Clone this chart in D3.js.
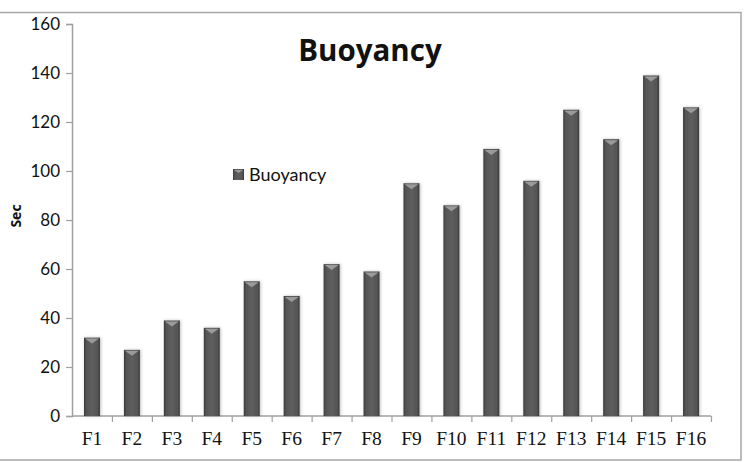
<!DOCTYPE html>
<html>
<head>
<meta charset="utf-8">
<script src="https://cdn.jsdelivr.net/npm/d3@7"></script>
<style>
	body { margin: 0; background: #fff; }
	svg { display: block; }
</style>
</head>
<body>
<div id="graphic"></div>
<script>
// chart data
const categories = ['F1', 'F2', 'F3', 'F4', 'F5', 'F6', 'F7', 'F8', 'F9', 'F10', 'F11', 'F12', 'F13', 'F14', 'F15', 'F16'];
const buoyancy = [32, 27, 39, 36, 55, 49, 62, 59, 95, 86, 109, 96, 125, 113, 139, 126];
const yTicks = [0, 20, 40, 60, 80, 100, 120, 140, 160];

const width = 745, height = 462;
const margin = { top: 24, right: 34, bottom: 46, left: 72 };
const chartWidth = width - margin.left - margin.right;
const chartHeight = height - margin.top - margin.bottom;

let svg = d3.select('#graphic').append('svg')
	.attr('width', width)
	.attr('height', height);

// gradient for the bevelled bars
let defs = svg.append('defs');
let grad = defs.append('linearGradient').attr('id', 'barGrad')
	.attr('x1', '0%').attr('x2', '100%').attr('y1', '0%').attr('y2', '0%');
grad.append('stop').attr('offset', '0%').attr('stop-color', '#3a3a3a');
grad.append('stop').attr('offset', '15%').attr('stop-color', '#555');
grad.append('stop').attr('offset', '50%').attr('stop-color', '#5e5e5e');
grad.append('stop').attr('offset', '85%').attr('stop-color', '#555');
grad.append('stop').attr('offset', '100%').attr('stop-color', '#383838');

let shadow = defs.append('filter').attr('id', 'shadow')
	.attr('x', '-50%').attr('y', '-10%').attr('width', '200%').attr('height', '120%');
shadow.append('feDropShadow').attr('dx', 1).attr('dy', 0).attr('stdDeviation', 1.5)
	.attr('flood-color', '#000').attr('flood-opacity', 0.25);

// outer frame
svg.append('rect')
	.attr('x', -2).attr('y', 12.5)
	.attr('width', 743).attr('height', 447.5)
	.attr('fill', 'none').attr('stroke', '#a6a6a6').attr('stroke-width', 1.5);

let g = svg.append('g').attr('transform', `translate(${margin.left},${margin.top})`);

const x = d3.scaleBand().domain(categories).range([0, chartWidth]).paddingInner(0.6).paddingOuter(0.3);
const xTicks = d3.scaleLinear().domain([0, categories.length]).range([0, chartWidth]);
const y = d3.scaleLinear().domain([0, 160]).range([chartHeight, 0]);

// y axis
let yAxis = g.append('g').attr('class', 'y axis')
	.call(d3.axisLeft(y).tickValues(yTicks).tickSize(6).tickPadding(6));
yAxis.select('.domain').attr('stroke', '#a0a0a0').attr('stroke-width', 1.5);
yAxis.selectAll('.tick line').attr('stroke', '#a0a0a0').attr('stroke-width', 1.2);
yAxis.selectAll('text')
	.attr('font-family', 'Lato, "Open Sans", sans-serif')
	.attr('font-size', 17).attr('fill', '#111');

// x axis: ticks at category boundaries
let xAxis = g.append('g').attr('class', 'x axis')
	.attr('transform', `translate(0,${chartHeight})`)
	.call(d3.axisBottom(xTicks).ticks(16).tickSize(6).tickFormat(''));
xAxis.select('.domain').attr('d', `M0,0H${chartWidth}`).attr('stroke', '#a0a0a0').attr('stroke-width', 1.5);
xAxis.selectAll('.tick line').attr('stroke', '#a0a0a0').attr('stroke-width', 1.2);
xAxis.selectAll('.tick').filter((d) => d == 0).remove();

g.append('g').selectAll('text')
	.data(categories)
	.join('text')
	.attr('x', (d) => x(d) + x.bandwidth() / 2)
	.attr('y', chartHeight + 29)
	.attr('text-anchor', 'middle')
	.attr('font-family', '"Liberation Serif", "Times New Roman", serif')
	.attr('font-size', 19.5)
	.attr('fill', '#111')
	.text((d) => d);

// bars
let bars = g.append('g').attr('class', 'bars')
	.selectAll('g')
	.data(categories.map((c, i) => ({ name: c, value: buoyancy[i] })))
	.join('g');

bars.append('rect')
	.attr('x', (d) => x(d.name))
	.attr('y', (d) => y(d.value))
	.attr('width', x.bandwidth())
	.attr('height', (d) => y(0) - y(d.value))
	.attr('fill', 'url(#barGrad)')
	.attr('filter', 'url(#shadow)');

// little light bevel at the top of each bar
bars.append('path')
	.attr('d', (d) => {
		let x0 = x(d.name), w = x.bandwidth(), t = y(d.value);
		return `M${x0 + 1},${t + 1}L${x0 + w - 1},${t + 1}L${x0 + w / 2},${t + 6}Z`;
	})
	.attr('fill', '#9a9a9a');

// title
svg.append('text')
	.attr('x', 370).attr('y', 61)
	.attr('text-anchor', 'middle')
	.attr('font-family', '"Open Sans", sans-serif')
	.attr('font-weight', 'bold')
	.attr('font-size', 29.5)
	.attr('fill', '#111')
	.text('Buoyancy');

// y label
svg.append('text')
	.attr('transform', 'translate(21,216) rotate(-90)')
	.attr('text-anchor', 'middle')
	.attr('font-family', '"Open Sans", sans-serif')
	.attr('font-weight', 'bold')
	.attr('font-size', 14)
	.attr('fill', '#111')
	.text('Sec');

// legend
let legend = svg.append('g').attr('transform', 'translate(233,169)');
legend.append('rect')
	.attr('width', 11).attr('height', 11)
	.attr('fill', 'url(#barGrad)');
legend.append('path')
	.attr('d', 'M1,1L10,1L5.5,4Z')
	.attr('fill', '#9a9a9a');
legend.append('text')
	.attr('x', 16).attr('y', 11.5)
	.attr('font-family', 'Lato, "Open Sans", sans-serif')
	.attr('font-size', 18)
	.attr('fill', '#111')
	.text('Buoyancy');
</script>
</body>
</html>
